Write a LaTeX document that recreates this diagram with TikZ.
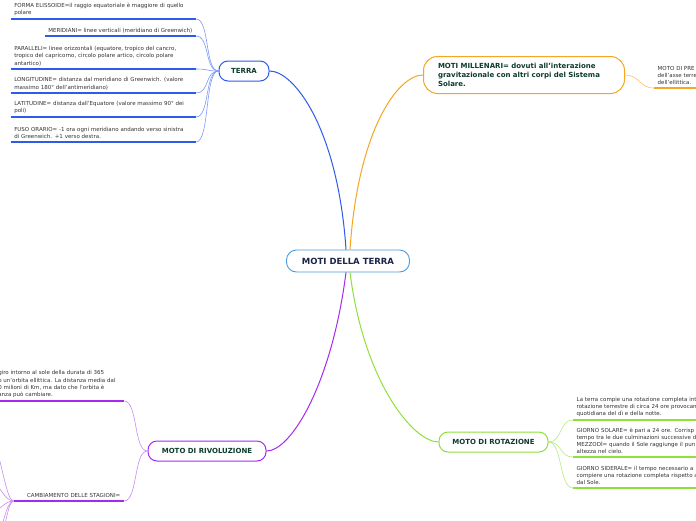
\documentclass[tikz,border=0pt]{standalone}
\usepackage{fontspec}
\setmainfont{DejaVu Sans}
\definecolor{cblue}{HTML}{2F5BEA}
\definecolor{cblueL}{HTML}{7F9CF3}
\definecolor{corange}{HTML}{F5A623}
\definecolor{corangeL}{HTML}{F7C070}
\definecolor{cpurple}{HTML}{A52AF0}
\definecolor{cpurpleL}{HTML}{C98AF5}
\definecolor{cgreen}{HTML}{8FE03A}
\definecolor{cgreenL}{HTML}{B4EC80}
\definecolor{ccenter}{HTML}{4A9BDC}
\definecolor{txt}{HTML}{333333}
\definecolor{dgreen}{HTML}{0E3B2C}
\definecolor{navy}{HTML}{1A2548}
\begin{document}
\begin{tikzpicture}[x=1pt,y=-1pt,
  topic/.style={draw, rounded corners=9pt, line width=1pt, fill=white, font=\fontsize{7}{9}\selectfont\bfseries, text=dgreen},
  leaf/.style={font=\fontsize{5.5}{7.3}\selectfont, text=txt, align=left, inner xsep=3.5pt, inner ysep=2.8pt},
  ul/.style={line width=1.4pt},
  link/.style={line width=0.6pt},
  mainlink/.style={line width=1pt}
]
\fill[white] (0,0) rectangle (696,520);
\useasboundingbox (0,0) rectangle (696,520);
\clip (0,0) rectangle (696,520);

% central and main topics
\node[draw=ccenter, fill=white, rounded corners=10pt, line width=0.9pt, minimum width=123pt, minimum height=22pt, font=\fontsize{8.5}{10}\selectfont\bfseries, text=navy] (c) at (348,261) {MOTI DELLA TERRA};
\node[topic, draw=cblue, minimum width=50pt, minimum height=20pt] (t) at (244,71) {TERRA};
\node[topic, draw=corange, minimum width=201pt, minimum height=37pt, align=left, text width=172pt, rounded corners=14pt] (m) at (524,75) {MOTI MILLENARI= dovuti all'interazione\\gravitazionale con altri corpi del Sistema\\Solare.};
\node[topic, draw=cpurple, minimum width=118pt, minimum height=20pt] (r) at (207,451) {MOTO DI RIVOLUZIONE};
\node[topic, draw=cgreen, minimum width=109pt, minimum height=20pt] (o) at (493.5,442) {MOTO DI ROTAZIONE};

% main links
\draw[cblue, mainlink] ([xshift=-2pt]c.north) .. controls +(-8,-120) and +(25,0) .. (t.east);
\draw[corange, mainlink] ([xshift=2pt]c.north) .. controls +(8,-120) and +(-25,0) .. (m.west);
\draw[cpurple, mainlink] ([xshift=-2pt]c.south) .. controls +(-14,110) and +(25,0) .. (r.east);
\draw[cgreen, mainlink] ([xshift=2pt]c.south) .. controls +(14,110) and +(-25,0) .. (o.west);

% TERRA leaves
\node[leaf, anchor=south east, text width=178pt] (t1) at (196,19) {FORMA ELISSOIDE=il raggio equatoriale è maggiore di quello\\polare};
\node[leaf, anchor=south east] (t2) at (196,36) {MERIDIANI= linee verticali (meridiano di Greenwich)};
\node[leaf, anchor=south east, text width=178pt] (t3) at (196,69) {PARALLELI= linee orizzontali (equatore, tropico del cancro,\\tropico del capricorno, circolo polare artico, circolo polare\\antartico)};
\node[leaf, anchor=south east, text width=178pt] (t4) at (196,93) {LONGITUDINE= distanza dal meridiano di Greenwich. (valore\\massimo 180° dell'antimeridiano)};
\node[leaf, anchor=south east, text width=178pt] (t5) at (196,117) {LATITUDINE= distanza dall'Equatore (valore massimo 90° dei\\poli)};
\node[leaf, anchor=south east, text width=178pt] (t6) at (196,142) {FUSO ORARIO= -1 ora ogni meridiano andando verso sinistra\\di Greenwich. +1 verso destra.};
\foreach \n in {t1,t2,t3,t4,t5,t6}{
  \draw[cblue, ul] (\n.south west) -- (\n.south east);
  \draw[cblueL, link] (\n.south east) .. controls +(14,0) and +(-14,0) .. (t.west);
}

% MOTI MILLENARI leaf
\node[leaf, anchor=south west, text width=60pt] (m1) at (654,88) {MOTO DI PRE\\dell'asse terre\\dell'ellittica.};
\draw[corange, ul] (m1.south west) -- (m1.south east);
\draw[corangeL, link] (m.east) .. controls +(15,0) and +(-15,0) .. (m1.south west);

% RIVOLUZIONE leaves
\node[leaf, anchor=south east, text width=122pt] (r1) at (124,401) {giro intorno al sole della durata di 365\\o un'orbita ellittica. La distanza media dal\\0 milioni di Km, ma dato che l'orbita è\\anza può cambiare.};
\node[leaf, anchor=south east, text width=103pt, align=right] (r2) at (124,501) {CAMBIAMENTO DELLE STAGIONI=};
\foreach \n in {r1,r2}{
  \draw[cpurple, ul] (\n.south west) -- (\n.south east);
  \draw[cpurpleL, link] (\n.south east) .. controls +(14,0) and +(-14,0) .. (r.west);
}
\coordinate (x1) at (-12,438);
\coordinate (x2) at (-10,482);
\coordinate (x3) at (-10,512);
\coordinate (x4) at (-6,540);
\coordinate (x5) at (-2,545);
\draw[cpurpleL, link] (r2.south west) .. controls +(-9,0) and +(12,0) .. (x1);
\draw[cpurpleL, link] (r2.south west) .. controls +(-10,0) and +(10,0) .. (x2);
\draw[cpurpleL, link] (r2.south west) .. controls +(-10,0) and +(10,0) .. (x3);
\draw[cpurpleL, link] (r2.south west) .. controls +(-8,0) and +(10,-10) .. (x4);
\draw[cpurpleL, link] (r2.south west) .. controls +(-6,0) and +(8,-15) .. (x5);

% ROTAZIONE leaves
\node[leaf, anchor=south west, text width=130pt] (o1) at (573,420) {La terra compie una rotazione completa int\\rotazione terrestre di circa 24 ore provocan\\quotidiana del dì e della notte.};
\node[leaf, anchor=south west, text width=130pt] (o2) at (573,457) {GIORNO SOLARE= è pari a 24 ore. Corrisp\\tempo tra le due culminazioni successive d\\MEZZODÌ= quando il Sole raggiunge il pun\\altezza nel cielo.};
\node[leaf, anchor=south west, text width=130pt] (o3) at (573,488) {GIORNO SIDERALE= il tempo necessario a\\compiere una rotazione completa rispetto a\\dal Sole.};
\foreach \n in {o1,o2,o3}{
  \draw[cgreen, ul] (\n.south west) -- (\n.south east);
  \draw[cgreenL, link] (o.east) .. controls +(14,0) and +(-14,0) .. (\n.south west);
}
\end{tikzpicture}
\end{document}
